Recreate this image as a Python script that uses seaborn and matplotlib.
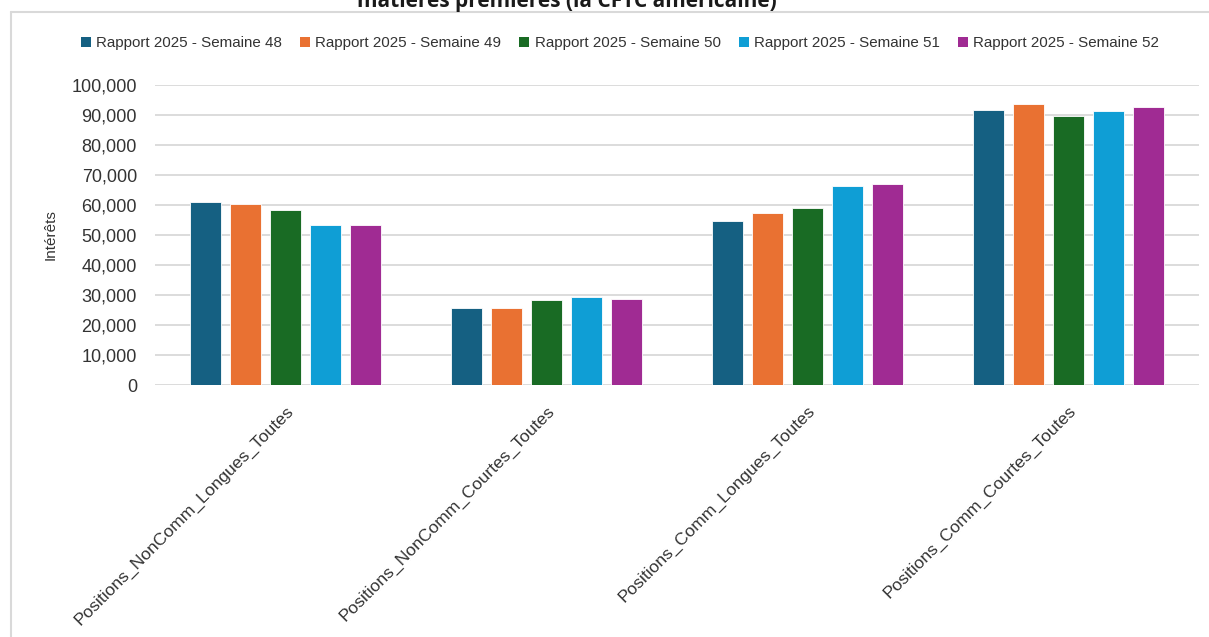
import matplotlib
matplotlib.use("Agg")
import matplotlib.pyplot as plt
from matplotlib.lines import Line2D
from matplotlib.patches import Patch
import seaborn as sns
import pandas as pd

categories = ["Positions_NonComm_Longues_Toutes", "Positions_NonComm_Courtes_Toutes",
              "Positions_Comm_Longues_Toutes", "Positions_Comm_Courtes_Toutes"]
series = ["Rapport 2025 - Semaine 48", "Rapport 2025 - Semaine 49", "Rapport 2025 - Semaine 50",
          "Rapport 2025 - Semaine 51", "Rapport 2025 - Semaine 52"]
s48 = [61000, 25700, 54600, 91800]
s49 = [60300, 25700, 57400, 93600]
s50 = [58200, 28200, 58900, 89700]
s51 = [53200, 29200, 66400, 91400]
s52 = [53200, 28700, 67100, 92700]
colors = ["#156082", "#E97132", "#196B24", "#0F9ED5", "#A02B93"]
yticks = [0, 10000, 20000, 30000, 40000, 50000, 60000, 70000, 80000, 90000, 100000]
title = "matières premières (la CFTC américaine)"
ylabel = "Intérêts"

rows = []
for name, vals in zip(series, [s48, s49, s50, s51, s52]):
    for c, v in zip(categories, vals):
        rows.append({"cat": c, "serie": name, "val": v})
df = pd.DataFrame(rows)

sns.set_theme(style="white")
plt.rcParams["font.family"] = ["Liberation Sans", "DejaVu Sans"]

fig = plt.figure(figsize=(12.09, 6.37), dpi=100)
ax = fig.add_axes([155/1209, 1-385/637, (1199-155)/1209, 300/637])

sns.barplot(data=df, x="cat", y="val", hue="serie", order=categories, hue_order=series,
            palette=colors, width=0.766, gap=0.22, saturation=1, ax=ax, legend=False,
            linewidth=0.6, edgecolor="white")

ax.set_ylim(0, 100000)
ax.set_xlim(-0.5, len(categories) - 0.5)
ax.set_yticks(yticks)
ax.set_yticklabels([f"{v:,}" for v in yticks], fontsize=13, color="#333333")
ax.yaxis.grid(True, color="#D9D9D9", linewidth=1.3)
ax.set_axisbelow(True)
for s in ax.spines.values():
    s.set_visible(False)
ax.tick_params(axis="both", length=0)
ax.tick_params(axis="y", pad=13)
ax.set_xticks(range(len(categories)))
ax.set_xticklabels(categories, rotation=45, ha="right", rotation_mode="anchor",
                   fontsize=12.6, color="#333333")
ax.tick_params(axis="x", pad=13)
ax.set_xlabel("")
ax.set_ylabel(ylabel, fontsize=11, color="#333333", labelpad=10)

handles = [Patch(facecolor=c, edgecolor="none") for c in colors]
fig.legend(handles, series, loc="center", bbox_to_anchor=(620/1209, 1-43/637), ncol=5,
           frameon=False, fontsize=10.9, handlelength=0.65, handleheight=0.65,
           handletextpad=0.35, columnspacing=1.2, labelcolor="#333333")

fig.text(567/1209, 1-7/637, title, ha="center", va="baseline", fontsize=15,
         fontweight="bold", family=["Open Sans", "DejaVu Sans"], color="#1a1a1a")

fig.add_artist(Line2D([11/1209, 1.01], [1-12/637, 1-12/637], transform=fig.transFigure,
                      color="#D9D9D9", linewidth=1.5))
fig.add_artist(Line2D([11/1209, 11/1209], [1-12/637, -0.01], transform=fig.transFigure,
                      color="#D9D9D9", linewidth=1.5))

fig.savefig("out.png", dpi=100)
